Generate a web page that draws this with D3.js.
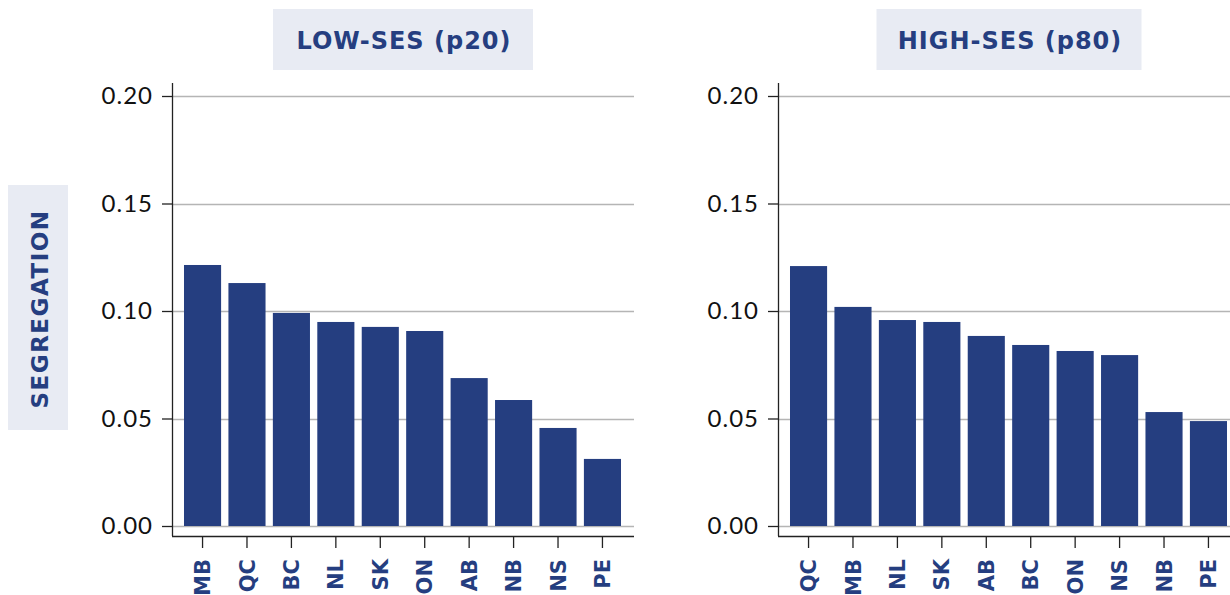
<!DOCTYPE html>
<html>
<head>
<meta charset="utf-8">
<script src="https://cdn.jsdelivr.net/npm/d3@7/dist/d3.min.js"></script>
<style>
  html, body { margin: 0; padding: 0; background: #ffffff; }
  svg { display: block; }
</style>
</head>
<body>
<svg id="chart" width="1230" height="595"></svg>
<script>
// ---- data ----
const lowCategories = ["MB", "QC", "BC", "NL", "SK", "ON", "AB", "NB", "NS", "PE"];
const lowValues = [0.1214, 0.1130, 0.0991, 0.0949, 0.0926, 0.0907, 0.0688, 0.0586, 0.0456, 0.0312];
const highCategories = ["QC", "MB", "NL", "SK", "AB", "BC", "ON", "NS", "NB", "PE"];
const highValues = [0.1209, 0.1019, 0.0958, 0.0949, 0.0884, 0.0842, 0.0814, 0.0795, 0.0530, 0.0488];
const yTicks = [0.00, 0.05, 0.10, 0.15, 0.20];
const yTickLabels = ["0.00", "0.05", "0.10", "0.15", "0.20"];
const panelTitles = ["LOW-SES (p20)", "HIGH-SES (p80)"];
const yAxisLabel = "SEGREGATION";

// ---- style ----
const navy = "#253e80";
const boxFill = "#e8ebf3";
const gridColor = "#b5b5b5";
const axisColor = "#222222";
const boldFont = "'DejaVu Sans', 'Open Sans', sans-serif";
const numFont = "Lato, 'Open Sans', sans-serif";

const svg = d3.select("#chart");

const yScale = d3.scaleLinear().domain([0, 0.2]).range([526, 96]);
const spineTop = 83, spineBottom = 536;

const panels = [
  { left: 172, right: 634, cats: lowCategories, vals: lowValues, title: panelTitles[0], boxW: 260 },
  { left: 778, right: 1240, cats: highCategories, vals: highValues, title: panelTitles[1], boxW: 265 }
];

panels.forEach(p => {
  const g = svg.append("g");
  const x = d3.scaleBand().domain(p.cats).range([p.left, p.right - 1]).paddingInner(0.165).paddingOuter(0.27);

  // gridlines
  g.append("g")
    .selectAll("line")
    .data(yTicks)
    .join("line")
    .attr("x1", p.left).attr("x2", p.right)
    .attr("y1", d => Math.round(yScale(d)) + 0.5).attr("y2", d => Math.round(yScale(d)) + 0.5)
    .attr("stroke", gridColor).attr("stroke-width", 1.5);

  // bars
  g.append("g")
    .selectAll("rect")
    .data(p.vals)
    .join("rect")
    .attr("x", (d, i) => x(p.cats[i]))
    .attr("width", x.bandwidth())
    .attr("y", d => yScale(d))
    .attr("height", d => yScale(0) - yScale(d))
    .attr("fill", navy);

  // y axis
  const yAxis = d3.axisLeft(yScale)
    .tickValues(yTicks)
    .tickFormat((d, i) => yTickLabels[i])
    .tickSize(10)
    .tickPadding(9);
  const yg = g.append("g").attr("transform", `translate(${p.left},0)`).call(yAxis);
  yg.select(".domain").remove();
  yg.selectAll(".tick line").attr("stroke", axisColor).attr("stroke-width", 1.3);
  yg.selectAll(".tick text")
    .attr("font-family", numFont)
    .attr("font-size", 24)
    .attr("letter-spacing", "1px")
    .attr("fill", "#111");
  g.append("line")
    .attr("x1", p.left + 0.5).attr("x2", p.left + 0.5)
    .attr("y1", spineTop).attr("y2", spineBottom)
    .attr("stroke", axisColor).attr("stroke-width", 1.3);

  // x axis
  const xAxis = d3.axisBottom(x).tickSize(12).tickPadding(10);
  const xg = g.append("g").attr("transform", `translate(0,${spineBottom})`).call(xAxis);
  xg.select(".domain").remove();
  xg.selectAll(".tick line").attr("stroke", axisColor).attr("stroke-width", 1.3);
  xg.selectAll(".tick text")
    .attr("font-family", boldFont)
    .attr("font-weight", 700)
    .attr("font-size", 21)
    .attr("fill", navy)
    .attr("text-anchor", "end")
    .attr("dy", "0.36em")
    .attr("transform", "translate(0,23) rotate(-90)")
    .attr("y", 0).attr("x", 0);
  g.append("line")
    .attr("x1", p.left).attr("x2", p.right)
    .attr("y1", spineBottom + 0.5).attr("y2", spineBottom + 0.5)
    .attr("stroke", axisColor).attr("stroke-width", 1.3);

  // title box
  const cx = (p.left + p.right) / 2;
  g.append("rect")
    .attr("x", cx - p.boxW / 2).attr("y", 9)
    .attr("width", p.boxW).attr("height", 61)
    .attr("fill", boxFill);
  g.append("text")
    .attr("x", cx + 1).attr("y", 41)
    .attr("text-anchor", "middle")
    .attr("dominant-baseline", "central")
    .attr("font-family", boldFont)
    .attr("font-weight", 700)
    .attr("font-size", 24)
    .attr("letter-spacing", "1px")
    .attr("fill", navy)
    .text(p.title);
});

// y axis label box
svg.append("rect")
  .attr("x", 8).attr("y", 185)
  .attr("width", 60).attr("height", 245)
  .attr("fill", boxFill);
svg.append("text")
  .attr("transform", "translate(40,309) rotate(-90)")
  .attr("text-anchor", "middle")
  .attr("dominant-baseline", "central")
  .attr("font-family", boldFont)
  .attr("font-weight", 700)
  .attr("font-size", 23)
  .attr("letter-spacing", "1.5px")
  .attr("fill", navy)
  .text(yAxisLabel);
</script>
</body>
</html>
